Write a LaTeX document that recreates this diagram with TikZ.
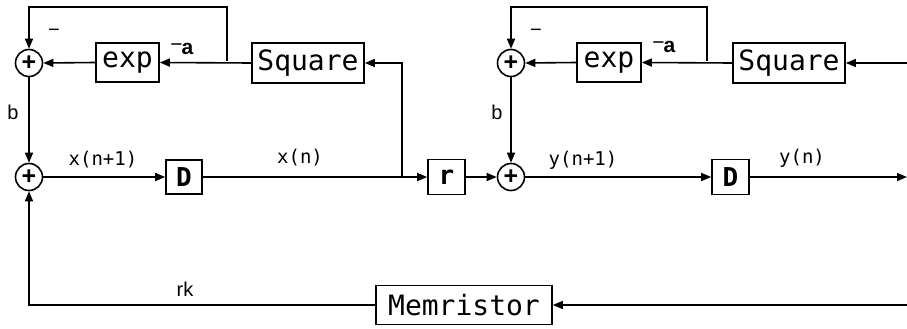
\documentclass[tikz,border=0pt]{standalone}
\usepackage{fontspec}
\setmainfont{Liberation Sans}
\newfontfamily\monofont{DejaVu Sans Mono}
\usetikzlibrary{arrows.meta}
\begin{document}
\begin{tikzpicture}[x=1pt,y=-1pt, line width=1.6pt,
  >={Triangle[length=10pt,width=8pt]},
  blk/.style={draw, inner sep=0pt, font=\monofont\fontsize{28}{28}\selectfont},
  dbox/.style={draw, inner sep=0pt, minimum width=36pt, minimum height=34pt, font=\monofont\bfseries\fontsize{26}{26}\selectfont},
  sum/.style={draw, circle, minimum size=27pt, inner sep=0pt, font=\bfseries\fontsize{25}{25}\selectfont},
  lbl/.style={inner sep=0pt, font=\fontsize{20}{20}\selectfont},
  sig/.style={inner sep=0pt, font=\monofont\fontsize{19}{19}\selectfont}]
\useasboundingbox (0,0) rectangle (907,329);

% left stage
\node[sum] (a1) at (29,63) {+};
\node[sum] (a2) at (29,177) {+};
\node[blk, minimum width=63pt, minimum height=39pt] (exp1) at (127.5,62.5) {exp};
\node[blk, minimum width=112pt, minimum height=40pt] (sq1) at (308,63) {Square};
\node[dbox] (d1) at (184,177) {D};
\node[dbox, minimum width=37pt, minimum height=35pt] (r) at (446.5,177) {r};

% right stage
\node[sum] (b1) at (511,63) {+};
\node[sum] (b2) at (511,177) {+};
\node[blk, minimum width=64pt, minimum height=39pt] (exp2) at (609,62.5) {exp};
\node[blk, minimum width=112pt, minimum height=40pt] (sq2) at (789,63) {Square};
\node[dbox, minimum width=37pt, minimum height=35pt] (d2) at (730.5,177) {D};

% memristor
\node[blk, minimum width=176pt, minimum height=39pt] (mem) at (464,305) {Memristor};

% coordinates
\coordinate (t1) at (227,61);
\coordinate (top1) at (227,7);
\coordinate (tap1) at (402,177);
\coordinate (t2) at (707,61);
\coordinate (top2) at (707,7);
\coordinate (sqin) at (907,63);
\coordinate (yout) at (907,177);
\coordinate (memin) at (907,305);

% left connectors
\draw[->] (sq1.west) -- (exp1.east);
\draw[->] (exp1.west) -- (a1.east);
\draw[->] (t1) -- (top1) -| (a1.north);
\draw[->] (a1.south) -- (a2.north);
\draw[->] (a2.east) -- (d1.west);
\draw[->] (d1.east) -- (r.west);
\draw[->] (tap1) |- (sq1.east);
\draw[->] (r.east) -- (b2.west);

% right connectors
\draw[->] (sqin) -- (sq2.east);
\draw[->] (sq2.west) -- (exp2.east);
\draw[->] (exp2.west) -- (b1.east);
\draw[->] (t2) -- (top2) -| (b1.north);
\draw[->] (b1.south) -- (b2.north);
\draw[->] (b2.east) -- (d2.west);
\draw[->] (d2.east) -- (yout);

% feedback via memristor
\draw[->] (memin) -- (mem.east);
\draw[->] (mem.west) -| (a2.south);

% labels
\node[lbl] at (54,33) {\textminus};
\node[lbl, font=\fontsize{21}{21}\selectfont] at (182,49) {\raisebox{0.3ex}{\textminus}\kern-1pt\textbf{a}};
\node[lbl] at (13,112) {b};
\node[sig] at (103,160) {x(n+1)};
\node[sig] at (300,158) {x(n)};
\node[lbl] at (536,33) {\textminus};
\node[lbl, font=\fontsize{21}{21}\selectfont] at (664,47) {\raisebox{0.3ex}{\textminus}\kern-1pt\textbf{a}};
\node[lbl] at (497,112) {b};
\node[sig] at (583,160) {y(n+1)};
\node[sig] at (802,158) {y(n)};
\node[lbl] at (185,289) {rk};
\end{tikzpicture}
\end{document}
